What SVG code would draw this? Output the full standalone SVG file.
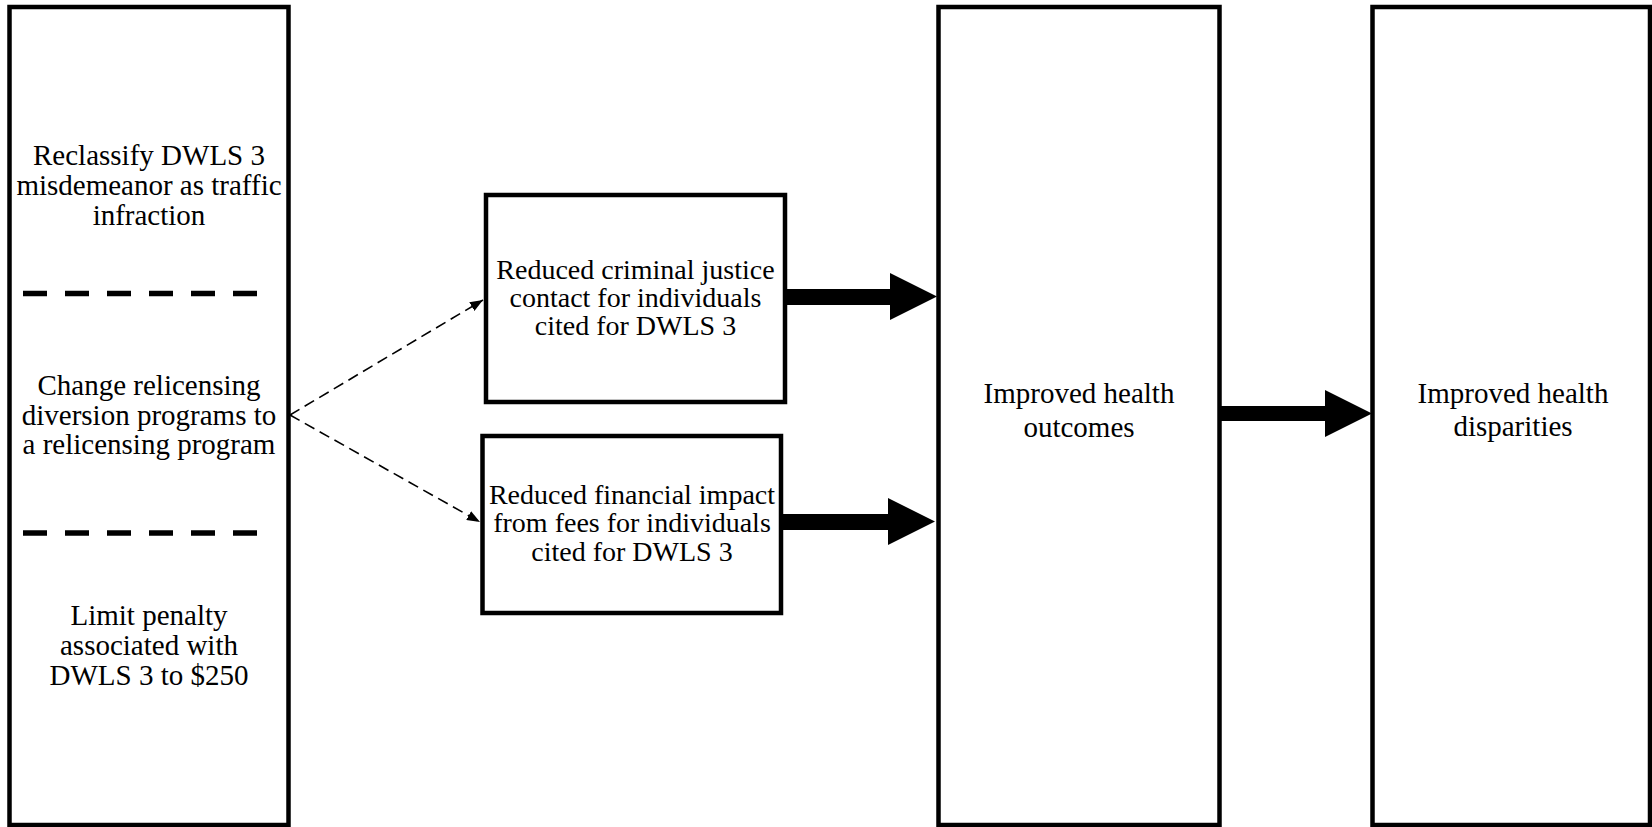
<svg xmlns="http://www.w3.org/2000/svg" width="1652" height="827" viewBox="0 0 1652 827">
<defs>
<style>
.box{fill:#fff;stroke:#000;stroke-width:4.5}
.sep{stroke:#000;stroke-width:5.5;stroke-dasharray:24 18}
.t{font-family:"Liberation Serif","Times New Roman",serif;font-size:29px;fill:#000;text-anchor:middle}
.s{font-size:28px}
.dash{fill:none;stroke:#000;stroke-width:1.6;stroke-dasharray:11 6}
.thick{fill:#000;stroke:none}
</style>
<marker id="ah" viewBox="0 0 13 10" refX="13" refY="5" markerWidth="13" markerHeight="10" markerUnits="userSpaceOnUse" orient="auto">
<path d="M0,0 L13,5 L0,10 z" fill="#000"/>
</marker>
</defs>
<rect width="1652" height="827" fill="#fff"/>
<g id="policies">
<rect class="box" x="9.5" y="7" width="279" height="818"/>
<text class="t" x="149" y="165">Reclassify DWLS 3</text>
<text class="t" x="149" y="195">misdemeanor as traffic</text>
<text class="t" x="149" y="225">infraction</text>
<line class="sep" x1="23" y1="293.5" x2="257" y2="293.5"/>
<text class="t" x="149" y="395">Change relicensing</text>
<text class="t" x="149" y="425">diversion programs to</text>
<text class="t" x="149" y="454">a relicensing program</text>
<line class="sep" x1="23" y1="533" x2="257" y2="533"/>
<text class="t" x="149" y="625">Limit penalty</text>
<text class="t" x="149" y="655">associated with</text>
<text class="t" x="149" y="685">DWLS 3 to $250</text>
</g>
<g id="criminal-justice">
<rect class="box" x="486" y="195" width="299" height="207"/>
<text class="t s" x="635.5" y="279">Reduced criminal justice</text>
<text class="t s" x="635.5" y="307">contact for individuals</text>
<text class="t s" x="635.5" y="335">cited for DWLS 3</text>
</g>
<g id="financial-impact">
<rect class="box" x="482.5" y="436" width="298.5" height="177"/>
<text class="t s" x="632" y="504">Reduced financial impact</text>
<text class="t s" x="632" y="532">from fees for individuals</text>
<text class="t s" x="632" y="561">cited for DWLS 3</text>
</g>
<g id="health-outcomes">
<rect class="box" x="938.5" y="7" width="281" height="818"/>
<text class="t" x="1079" y="403">Improved health</text>
<text class="t" x="1079" y="437">outcomes</text>
</g>
<g id="health-disparities">
<rect class="box" x="1372.5" y="7" width="277.5" height="818"/>
<text class="t" x="1513" y="403">Improved health</text>
<text class="t" x="1513" y="436">disparities</text>
</g>
<g id="connectors">
<line class="dash" x1="290" y1="415" x2="483" y2="300" marker-end="url(#ah)"/>
<line class="dash" x1="290" y1="415" x2="480" y2="522" marker-end="url(#ah)"/>
<polygon class="thick" points="787,289 890,289 890,273 937,296.5 890,320 890,305 787,305"/>
<polygon class="thick" points="782,514 888,514 888,498 935,521.5 888,545 888,530 782,530"/>
<polygon class="thick" points="1221,406 1325,406 1325,390 1372,413.5 1325,437 1325,421 1221,421"/>
</g>
</svg>
